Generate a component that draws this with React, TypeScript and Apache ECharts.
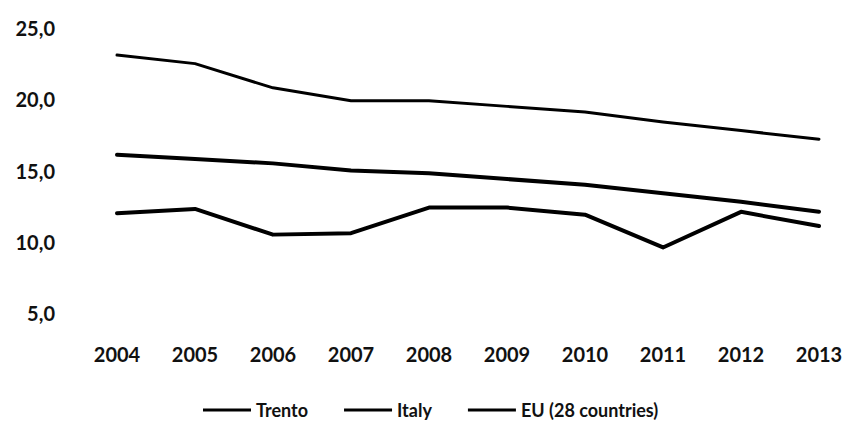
import React, { useEffect, useRef } from "react";
import * as echarts from "echarts";

const years = ["2004", "2005", "2006", "2007", "2008", "2009", "2010", "2011", "2012", "2013"];
const trento = [12.0, 12.3, 10.5, 10.6, 12.4, 12.4, 11.9, 9.6, 12.1, 11.1];
const italy = [23.1, 22.5, 20.8, 19.9, 19.9, 19.5, 19.1, 18.4, 17.8, 17.2];
const eu28 = [16.1, 15.8, 15.5, 15.0, 14.8, 14.4, 14.0, 13.4, 12.8, 12.1];
const seriesNames = ["Trento", "Italy", "EU (28 countries)"];

const FONT = "Lato";
const TXT = "#111111";

export default function App() {
  const ref = useRef<HTMLDivElement>(null);
  useEffect(() => {
    if (!ref.current) return;
    const chart = echarts.init(ref.current, undefined, { renderer: "svg" });
    chart.setOption({
      animation: false,
      backgroundColor: "#ffffff",
      grid: { left: 117, right: 28, top: 28, bottom: 115, containLabel: false },
      xAxis: {
        type: "category",
        data: years,
        boundaryGap: false,
        axisLine: { show: false },
        axisTick: { show: false },
        splitLine: { show: false },
        axisLabel: {
          margin: 31,
          color: TXT,
          fontFamily: FONT,
          fontWeight: "bold",
          fontSize: 20,
        },
      },
      yAxis: {
        type: "value",
        min: 5,
        max: 25,
        interval: 5,
        axisLine: { show: false },
        axisTick: { show: false },
        splitLine: { show: false },
        axisLabel: {
          margin: 62,
          color: TXT,
          fontFamily: FONT,
          fontWeight: "bold",
          fontSize: 20,
          formatter: (v: number) => v.toFixed(1).replace(".", ","),
        },
      },
      legend: {
        left: 198,
        top: 396,
        itemWidth: 48,
        itemHeight: 3,
        itemGap: 36,
        icon: "rect",
        textStyle: {
          color: TXT,
          fontFamily: FONT,
          fontWeight: "bold",
          fontSize: 18,
        },
        data: seriesNames.map((n) => ({ name: n, icon: "rect" })),
      },
      series: [
        {
          name: seriesNames[0],
          type: "line",
          data: trento,
          showSymbol: false,
          symbol: "none",
          lineStyle: { color: "#000000", width: 4, join: "round", cap: "round" },
          itemStyle: { color: "#000000" },
        },
        {
          name: seriesNames[1],
          type: "line",
          data: italy,
          showSymbol: false,
          symbol: "none",
          lineStyle: { color: "#000000", width: 3, join: "round", cap: "round" },
          itemStyle: { color: "#000000" },
        },
        {
          name: seriesNames[2],
          type: "line",
          data: eu28,
          showSymbol: false,
          symbol: "none",
          lineStyle: { color: "#000000", width: 4, join: "round", cap: "round" },
          itemStyle: { color: "#000000" },
        },
      ],
    });
    return () => chart.dispose();
  }, []);
  return <div ref={ref} style={{ width: 847, height: 428, position: "absolute", left: 0, top: 0 }} />;
}
